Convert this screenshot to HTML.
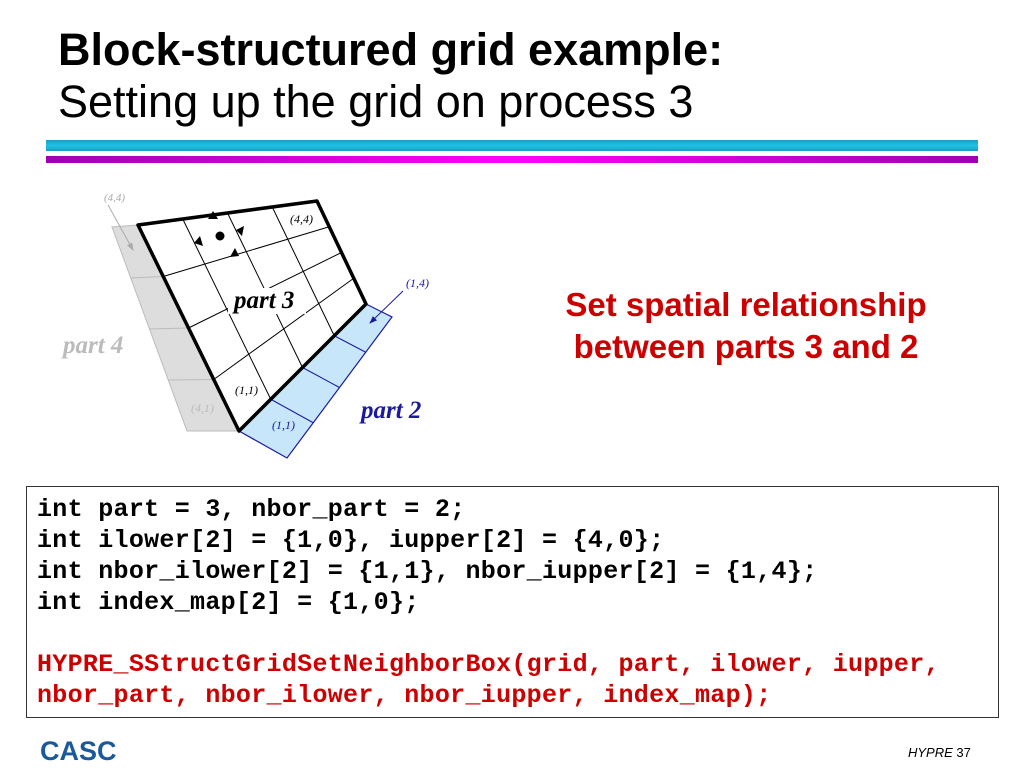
<!DOCTYPE html>
<html><head><meta charset="utf-8"><style>
body{margin:0;width:1024px;height:768px;background:#fff;position:relative;overflow:hidden;font-family:"Liberation Sans",sans-serif}
.a{position:absolute;white-space:nowrap}
pre{margin:0;font-family:"Liberation Mono",monospace;font-weight:bold;font-size:25px;line-height:31px;letter-spacing:0.3px}
pre.a{white-space:pre}
</style></head><body>
<div class="a" style="left:58px;top:24px;font-size:45px;font-weight:bold;color:#000">Block-structured grid example:</div>
<div class="a" style="left:58px;top:76px;font-size:45px;color:#000">Setting up the grid on process 3</div>
<div class="a" style="left:46px;top:140px;width:932px;height:11px;background:linear-gradient(#1a9fc0,#19c4ea 50%,#1a9fc0)"></div>
<div class="a" style="left:46px;top:156px;width:932px;height:7px;background:linear-gradient(90deg,#a000b0,#ff00ff 50%,#a000b0)"></div>

<svg class="a" style="left:0;top:0" width="1024" height="768" font-family="Liberation Serif,serif" font-style="italic">
<defs>
<marker id="ag" markerWidth="8" markerHeight="8" refX="7" refY="4" orient="auto"><path d="M0,1L8,4L0,7z" fill="#aaa"/></marker>
<marker id="ab" markerWidth="8" markerHeight="8" refX="7" refY="4" orient="auto"><path d="M0,1L8,4L0,7z" fill="#1a1aa0"/></marker>
</defs>
<polygon points="112,227 138,225 239,431 187,431" fill="#ddd" stroke="#bbb"/>
<g stroke="#bbb"><line x1="130.75" y1="278" x2="163.25" y2="276.5"/><line x1="149.5" y1="329" x2="188.5" y2="328"/><line x1="168.25" y1="380" x2="213.75" y2="379.5"/></g>
<polygon points="366,304 392,317 287,458 239,431" fill="#c8e6fa" stroke="#1a1aa0" stroke-width="1.2"/>
<g stroke="#1a1aa0"><line x1="334.25" y1="335.75" x2="365.75" y2="352.25"/><line x1="302.5" y1="367.5" x2="339.5" y2="387.5"/><line x1="270.75" y1="399.25" x2="313.25" y2="422.75"/></g>
<polygon points="138,225 317,201 366,304 239,431" fill="#fff"/>
<g stroke="#000" stroke-width="1">
<line x1="182.75" y1="219" x2="270.75" y2="399.25"/><line x1="227.5" y1="213" x2="302.5" y2="367.5"/><line x1="272.25" y1="207" x2="334.25" y2="335.75"/>
<line x1="163.25" y1="276.5" x2="329.25" y2="226.75"/><line x1="188.5" y1="328" x2="341.5" y2="252.5"/><line x1="213.75" y1="379.5" x2="353.75" y2="278.25"/>
</g>
<polygon points="138,225 317,201 366,304 239,431" fill="none" stroke="#000" stroke-width="3.5" stroke-linejoin="round"/>
<rect x="228" y="288" width="78" height="26" fill="#fff"/>
<circle cx="220" cy="236" r="4.5" fill="#000"/>
<polygon points="213,211 208,219 218,219" fill="#000"/>
<polygon points="244,226 236,230 242,236" fill="#000"/>
<polygon points="200,236 194,243 203,246" fill="#000"/>
<polygon points="235,248 230,257 239,256" fill="#000"/>
<line x1="108" y1="205" x2="133" y2="250" stroke="#aaa" marker-end="url(#ag)"/>
<line x1="403" y1="291" x2="370" y2="323" stroke="#1a1aa0" marker-end="url(#ab)"/>
<text x="104" y="201" font-size="11" fill="#aaa">(4,4)</text>
<text x="290" y="223" font-size="12" fill="#000">(4,4)</text>
<text x="406" y="287" font-size="12" fill="#1a1aa0">(1,4)</text>
<text x="234" y="308" font-size="25" font-weight="bold" fill="#000">part 3</text>
<text x="63" y="353" font-size="25" font-weight="bold" fill="#bbb">part 4</text>
<text x="191" y="412" font-size="12" fill="#bbb">(4,1)</text>
<text x="235" y="394" font-size="12" fill="#000">(1,1)</text>
<text x="272" y="429" font-size="12" fill="#1a1aa0">(1,1)</text>
<text x="361" y="418" font-size="25" font-weight="bold" fill="#1a1aa0">part 2</text>
</svg>

<div class="a" style="left:546px;top:284px;width:400px;text-align:center;font-size:33px;font-weight:bold;color:#cc0000;line-height:42px">Set spatial relationship<br>between parts 3 and 2</div>

<div class="a" style="left:26px;top:486px;width:971px;height:230px;border:1.5px solid #333"></div>
<pre class="a" style="left:37px;top:494px">int part = 3, nbor_part = 2;
int ilower[2] = {1,0}, iupper[2] = {4,0};
int nbor_ilower[2] = {1,1}, nbor_iupper[2] = {1,4};
int index_map[2] = {1,0};

<span style="color:#cc0000">HYPRE_SStructGridSetNeighborBox(grid, part, ilower, iupper,
nbor_part, nbor_ilower, nbor_iupper, index_map);</span></pre>

<div class="a" style="left:40px;top:736px;font-size:27px;font-weight:bold;color:#1a5a9a">CASC</div>
<div class="a" style="left:908px;top:745px;font-size:13px;font-style:italic;color:#000">HYPRE <span style="font-style:normal">37</span></div>
</body></html>
